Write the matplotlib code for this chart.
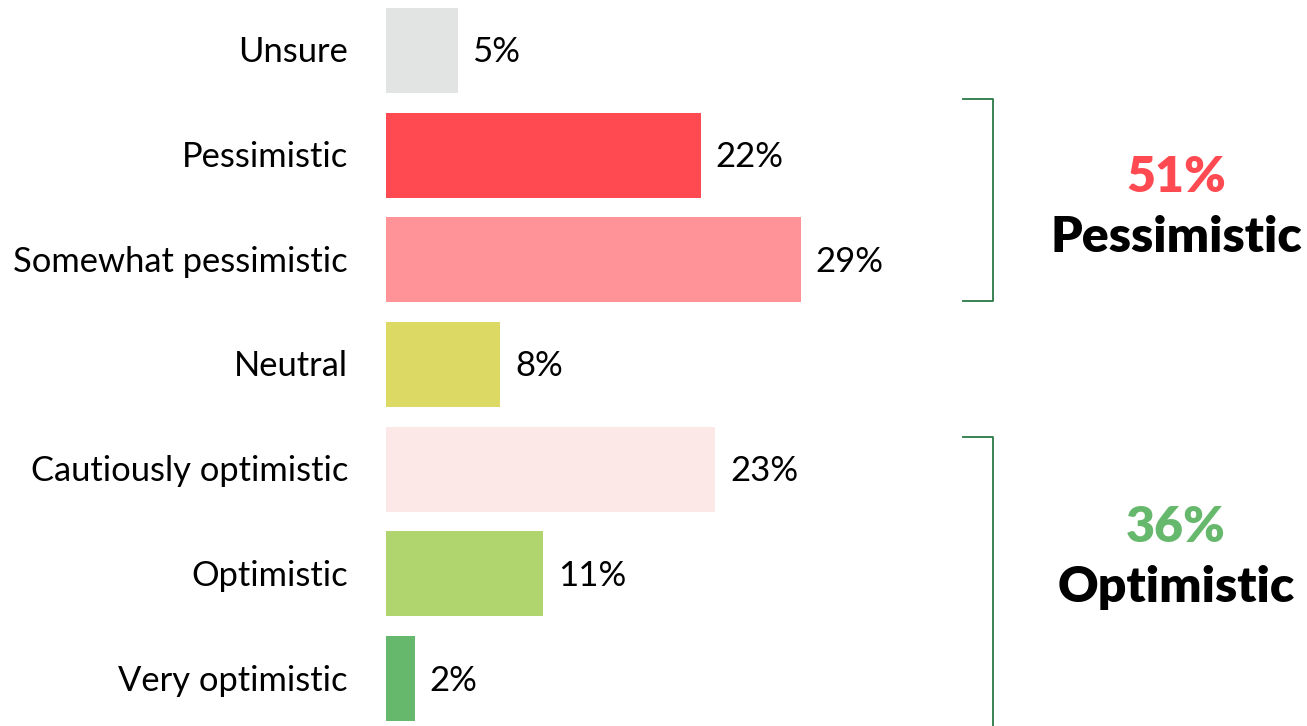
import matplotlib.pyplot as plt

plt.rcParams["font.family"] = ["Lato", "DejaVu Sans"]

CATEGORIES = [
    "Unsure",
    "Pessimistic",
    "Somewhat pessimistic",
    "Neutral",
    "Cautiously optimistic",
    "Optimistic",
    "Very optimistic",
]
VALUES = [5, 22, 29, 8, 23, 11, 2]
COLORS = ["#e2e4e3", "#ff4a52", "#ff9397", "#dcd964", "#fde8e8", "#b0d56e", "#66b86c"]

GROUP_TOTALS = ["51%", "36%"]
GROUP_NAMES = ["Pessimistic", "Optimistic"]
GROUP_COLORS = ["#ff4a52", "#66b86c"]

W, H = 1307, 726
PX_PER_PCT = 14.3
PITCH = 104.67

fig = plt.figure(figsize=(W / 100, H / 100), dpi=100)
ax = fig.add_axes([386 / W, 0, 1 - 386 / W, 1])
ax.set_xlim(0, (W - 386) / PX_PER_PCT)
ax.set_ylim(6 + (H - 678.5) / PITCH, -50.5 / PITCH)
ax.axis("off")

ypos = list(range(len(CATEGORIES)))
ax.barh(ypos, VALUES, height=85 / PITCH, color=COLORS)

dy = 2 / PITCH
for y, v, name in zip(ypos, VALUES, CATEGORIES):
    ax.text(v + 15 / PX_PER_PCT, y + dy, f"{v}%", va="center", ha="left",
            fontsize=25, color="black")
    ax.text(-38 / PX_PER_PCT, y + dy, name, va="center", ha="right",
            fontsize=24.8, color="black", clip_on=False)

# brackets
bx0 = (963 - 386) / PX_PER_PCT
bx1 = (993 - 386) / PX_PER_PCT
bracket_col = "#2a7a46"
top1, bot1 = (99 - 50.5) / PITCH, (301 - 50.5) / PITCH
ax.plot([bx0, bx1, bx1, bx0], [top1, top1, bot1, bot1],
        color=bracket_col, lw=1.3, clip_on=False, solid_joinstyle="round")
top2 = (437 - 50.5) / PITCH
ax.plot([bx0, bx1, bx1], [top2, top2, 7.0],
        color=bracket_col, lw=1.3, clip_on=False, solid_joinstyle="round")

# group totals
for (tot, name, col, y_tot, y_name) in zip(
        GROUP_TOTALS, GROUP_NAMES, GROUP_COLORS, [192, 542], [252, 602]):
    fig.text(1176 / W, 1 - y_tot / H, tot, ha="center", va="baseline",
             fontsize=36, fontweight="heavy", color=col)
    fig.text(1176 / W, 1 - y_name / H, name, ha="center", va="baseline",
             fontsize=36, fontweight="heavy", color="black")

fig.savefig("out.png", dpi=100)
